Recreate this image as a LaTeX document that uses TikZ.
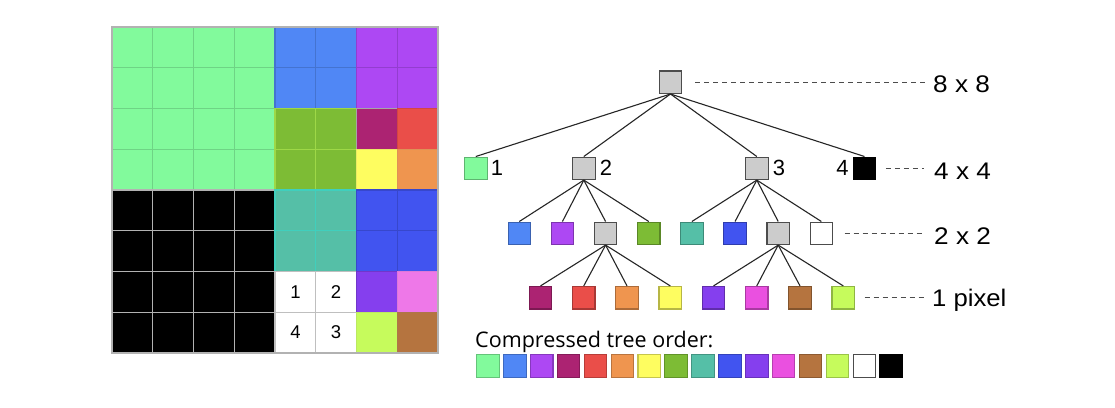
\documentclass[tikz,border=0pt]{standalone}
\usepackage{fontspec}
\setmainfont{Liberation Sans}
\newfontfamily\ctofont{Open Sans}
\definecolor{G}{HTML}{82FA9C}
\definecolor{BA}{HTML}{5087F5}
\definecolor{PA}{HTML}{AD48F3}
\definecolor{O}{HTML}{7DBC35}
\definecolor{M}{HTML}{AC2372}
\definecolor{R}{HTML}{EA4E49}
\definecolor{Y}{HTML}{FEFD60}
\definecolor{OR}{HTML}{EF954F}
\definecolor{T}{HTML}{55BFA7}
\definecolor{BB}{HTML}{4154F0}
\definecolor{V}{HTML}{853FEE}
\definecolor{PK}{HTML}{EE78E8}
\definecolor{PKT}{HTML}{EA50E0}
\definecolor{L}{HTML}{C6FB5C}
\definecolor{BR}{HTML}{B5743F}
\definecolor{K}{HTML}{000000}
\definecolor{W}{HTML}{FFFFFF}
\definecolor{GR}{HTML}{CCCCCC}
\colorlet{GX}{G!85!black}
\colorlet{BAX}{BA!85!black}
\colorlet{PAX}{PA!85!black}
\colorlet{OX}{O!55!L}
\colorlet{MX}{gray!70}
\colorlet{RX}{R!90!black}
\colorlet{YX}{Y!85!gray}
\colorlet{ORX}{OR!85!gray}
\colorlet{TX}{T!75!cyan}
\colorlet{BBX}{BB!85!black}
\colorlet{KX}{gray!60}
\colorlet{WX}{gray!50}
\colorlet{VX}{V!85!black}
\colorlet{PKX}{PK!85!gray}
\colorlet{LX}{L!85!gray}
\colorlet{BRX}{BR!85!gray}
\colorlet{GRX}{GR!85!black}
\begin{document}
\begin{tikzpicture}[x=1pt,y=-1pt,
  tb/.style={minimum size=22.5pt, inner sep=0pt, line width=1.1pt, fill=#1, draw=#1!72!black},
  ob/.style={minimum size=22.5pt, inner sep=0pt, line width=1.1pt, fill=#1, draw=#1!78!black},
  edge/.style={draw=black!85, line width=1.1pt},
  dsh/.style={draw=black!70, line width=1.2pt, dash pattern=on 5pt off 4pt},
  lvl/.style={anchor=base west, inner sep=0pt, font=\fontsize{24}{28}\selectfont},
  num/.style={inner sep=1pt, font=\fontsize{22}{26}\selectfont},
  gnum/.style={inner sep=0pt, font=\fontsize{18.5}{22}\selectfont}]
\useasboundingbox (0,0) rectangle (1115,407);
\fill[white] (0,0) rectangle (1115,407);

% ---- pixel grid ----
\foreach \row [count=\r from 0] in {
  {G,G,G,G,BA,BA,PA,PA},{G,G,G,G,BA,BA,PA,PA},
  {G,G,G,G,O,O,M,R},{G,G,G,G,O,O,Y,OR},
  {K,K,K,K,T,T,BB,BB},{K,K,K,K,T,T,BB,BB},
  {K,K,K,K,W,W,V,PK},{K,K,K,K,W,W,L,BR}}{
  \foreach \cc [count=\k from 0] in \row {
    \path[fill=\cc, draw=\cc X, line width=1.1pt]
      (112+\k*40.75, 27+\r*40.75) rectangle ++(40.75,40.75);
  }
}
\draw[gray!60, line width=1.1pt] (112,27) rectangle (438,353);
\node[gnum] (g1) at (295.4,291.9) {1};
\node[gnum] (g2) at (336.1,291.9) {2};
\node[gnum] (g4) at (295.4,332.6) {4};
\node[gnum] (g3) at (336.1,332.6) {3};

% ---- tree ----
\node[tb=GR, draw=black!70] (r) at (670.5,82.2) {};
\node[tb=G]  (a1) at (475.8,168.3) {};
\node[tb=GR, draw=black!70] (a2) at (583.8,168.3) {};
\node[tb=GR, draw=black!70] (a3) at (756.8,168.3) {};
\node[tb=K]  (a4) at (864.5,168.3) {};

\foreach \cc [count=\i] in {BA,PA,GR,O,T,BB,GR,W}
  \node[tb=\cc] (b\i) at (519.3+\i*43.15-43.15,233.3) {};
\node[tb=GR, draw=black!70] at (b3) {};
\node[tb=GR, draw=black!70] at (b7) {};
\node[tb=W, draw=black!70] at (b8) {};

\foreach \cc [count=\i] in {M,R,OR,Y,V,PKT,BR,L}
  \node[tb=\cc] (c\i) at (540.5+\i*43.25-43.25,297.7) {};

\foreach \i in {1,...,4} \draw[edge] (r.south) -- (a\i.north);
\foreach \i in {1,...,4} \draw[edge] (a2.south) -- (b\i.north);
\foreach \i in {5,...,8} \draw[edge] (a3.south) -- (b\i.north);
\foreach \i in {1,...,4} \draw[edge] (b3.south) -- (c\i.north);
\foreach \i in {5,...,8} \draw[edge] (b7.south) -- (c\i.north);

\node[num, anchor=west] (n1) at ([xshift=2pt]a1.east) {1};
\node[num, anchor=west] (n2) at ([xshift=3pt]a2.east) {2};
\node[num, anchor=west] (n3) at ([xshift=3pt]a3.east) {3};
\node[num, anchor=east] (n4) at ([xshift=-3pt]a4.west) {4};

% ---- level labels ----
\node[lvl] (t8) at (933,92.3) {\scalebox{1.09}[1]{8 x 8}};
\node[lvl] (t4) at (934,179.5) {\scalebox{1.09}[1]{4 x 4}};
\node[lvl] (t2) at (934,244) {\scalebox{1.09}[1]{2 x 2}};
\node[lvl] (t1) at (932,306) {\scalebox{1.07}[1]{1 pixel}};
\draw[dsh] ([xshift=13pt]r.east) -- ([xshift=-8pt]r.east -| t8.west);
\draw[dsh] ([xshift=9.5pt]a4.east) -- ([xshift=-10pt]a4.east -| t4.west);
\draw[dsh] ([xshift=11.5pt]b8.east) -- ([xshift=-10pt]b8.east -| t2.west);
\draw[dsh] ([xshift=9.5pt]c8.east) -- ([xshift=-7pt]c8.east -| t1.west);

% ---- compressed order ----
\node[anchor=base west, inner sep=0pt] (ct) at (475,347)
  {\ctofont\fontsize{21.5}{25}\selectfont Compressed tree order:};
\foreach \cc [count=\i from 0] in {G,BA,PA,M,R,OR,Y,O,T,BB,V,PKT,BR,L,W,K}
  \node[ob=\cc] (o\i) at (488+\i*26.88,366) {};
\node[ob=W, draw=black!70] at (o14) {};
\end{tikzpicture}
\end{document}
